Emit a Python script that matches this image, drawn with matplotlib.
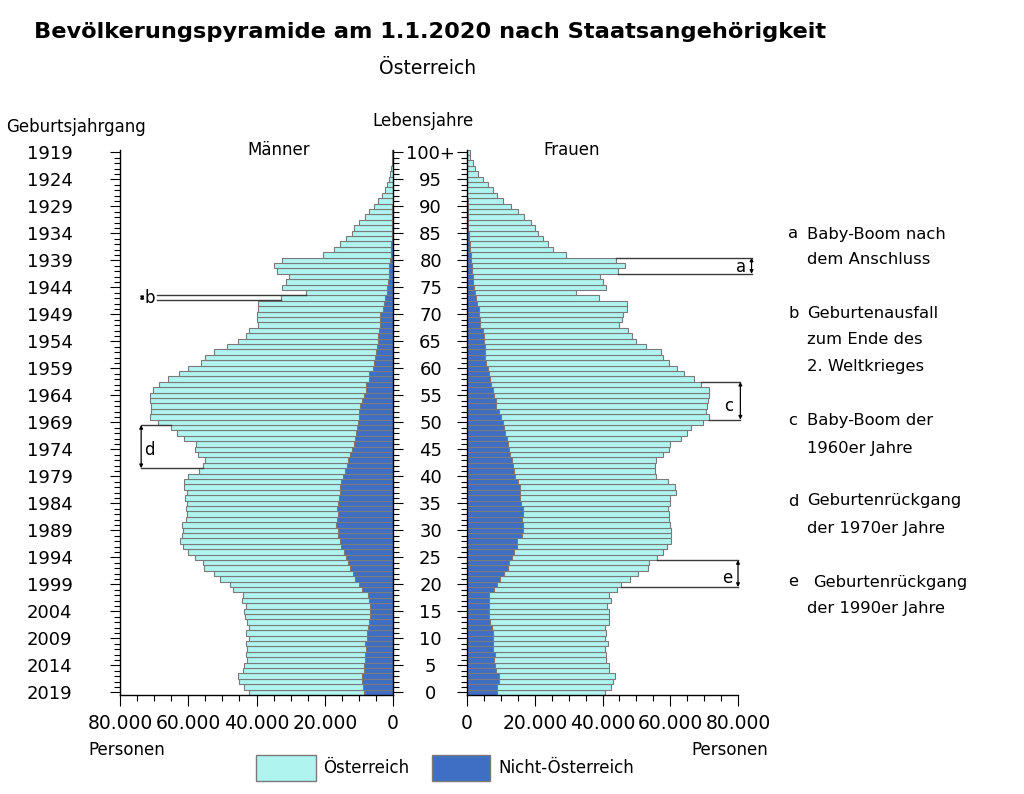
import matplotlib
matplotlib.use('Agg')
import matplotlib.pyplot as plt
import numpy as np
from matplotlib.patches import Rectangle
from matplotlib.ticker import MultipleLocator, FixedLocator, FuncFormatter

plt.rcParams['font.family'] = 'DejaVu Sans'

# Lebensjahre 0 .. 100+ (Werte in 1.000 Personen)
alter = np.arange(0, 101)

maenner_gesamt = [
    42.1, 43.6, 45.1, 45.5, 44.1, 43.8, 42.8, 43.1, 42.8, 43.1,
    42.1, 43.1, 42.1, 42.8, 43.3, 43.8, 43.1, 44.3, 44.0, 46.9,
    47.9, 50.7, 52.6, 55.5, 55.7, 58.1, 60.2, 61.6, 62.5, 61.9,
    61.4, 61.9, 60.6, 60.3, 60.8, 60.3, 60.9, 60.4, 61.1, 61.3,
    60.2, 56.8, 55.6, 55.0, 57.0, 58.0, 57.7, 61.1, 63.4, 65.0,
    69.0, 71.2, 70.9, 70.9, 71.2, 71.2, 70.2, 68.5, 66.0, 62.8,
    60.1, 56.3, 55.0, 52.5, 48.5, 45.3, 43.1, 42.1, 39.7, 39.9,
    39.9, 39.6, 39.6, 32.8, 25.5, 32.4, 31.3, 30.5, 34.0, 35.0,
    32.4, 20.6, 17.4, 15.6, 13.8, 12.0, 11.3, 10.0, 8.3, 7.1,
    5.7, 4.4, 3.2, 2.4, 1.8, 1.2, 0.8, 0.6, 0.4, 0.2,
    0.2]

maenner_nicht_oesterreich = [
    8.6, 8.8, 9.1, 9.1, 8.4, 8.4, 8.1, 8.1, 7.9, 8.1,
    7.6, 7.6, 7.3, 7.0, 6.8, 6.8, 6.7, 7.1, 7.4, 9.0,
    10.0, 11.0, 11.7, 12.5, 13.3, 13.9, 14.3, 15.3, 15.5, 16.2,
    16.2, 16.7, 16.4, 16.2, 16.4, 16.2, 15.9, 15.6, 15.5, 15.3,
    14.7, 14.0, 13.5, 13.2, 12.5, 12.0, 11.3, 11.1, 10.8, 10.6,
    10.4, 10.1, 10.0, 9.8, 9.1, 8.6, 8.0, 7.8, 7.0, 6.9,
    6.0, 5.5, 5.2, 5.0, 4.8, 4.5, 4.4, 4.2, 3.9, 3.9,
    3.7, 2.9, 2.7, 2.2, 1.8, 1.8, 1.6, 1.3, 1.2, 1.1,
    0.8, 0.6, 0.5, 0.5, 0.4, 0.4, 0.3, 0.3, 0.2, 0.2,
    0.2, 0.1, 0.1, 0.1, 0.1, 0.0, 0.0, 0.0, 0.0, 0.0,
    0.0]

frauen_gesamt = [
    40.6, 42.4, 43.0, 43.7, 42.0, 41.8, 40.9, 40.9, 40.7, 41.5,
    40.7, 40.9, 40.7, 41.8, 41.8, 42.0, 41.2, 42.6, 41.8, 44.4,
    45.6, 48.0, 50.6, 53.4, 53.8, 56.2, 58.0, 58.9, 60.2, 60.2,
    60.2, 59.9, 59.5, 59.7, 59.2, 60.0, 59.9, 61.8, 61.4, 59.3,
    55.9, 55.5, 55.5, 55.8, 58.0, 59.7, 59.9, 63.1, 64.8, 66.2,
    69.8, 71.3, 70.7, 70.9, 71.0, 71.5, 71.3, 69.0, 66.9, 64.2,
    62.1, 59.5, 58.0, 57.2, 52.9, 50.0, 48.6, 47.4, 44.9, 45.9,
    46.0, 47.2, 47.2, 39.1, 32.1, 40.9, 40.1, 39.3, 44.5, 46.7,
    44.0, 29.3, 25.4, 23.9, 22.4, 20.9, 20.0, 18.9, 16.9, 15.2,
    13.0, 10.7, 8.8, 7.7, 6.3, 4.6, 3.2, 2.3, 1.7, 0.9,
    1.0]

frauen_nicht_oesterreich = [
    8.8, 8.8, 9.3, 9.3, 8.6, 8.3, 8.1, 8.3, 7.8, 7.8,
    7.6, 7.6, 7.3, 6.9, 6.6, 6.4, 6.4, 6.4, 6.6, 8.0,
    8.8, 9.8, 11.0, 12.0, 12.5, 13.2, 14.0, 14.7, 14.9, 16.1,
    16.6, 16.6, 16.1, 16.4, 16.4, 16.0, 15.7, 15.7, 15.7, 15.1,
    14.2, 13.8, 13.5, 13.2, 12.8, 12.5, 12.0, 11.7, 11.3, 10.8,
    10.5, 10.0, 9.3, 8.7, 8.7, 8.1, 7.8, 7.2, 6.8, 6.6,
    6.1, 5.6, 5.4, 5.3, 5.3, 5.1, 4.9, 4.6, 3.8, 3.8,
    3.6, 3.4, 3.0, 2.7, 2.3, 2.1, 1.9, 1.9, 1.5, 1.5,
    1.2, 1.1, 0.9, 0.9, 0.7, 0.5, 0.4, 0.3, 0.3, 0.2,
    0.2, 0.2, 0.1, 0.1, 0.1, 0.1, 0.0, 0.0, 0.0, 0.0,
    0.0]

label_alter = [0, 5, 10, 15, 20, 25, 30, 35, 40, 45, 50,
               55, 60, 65, 70, 75, 80, 85, 90, 95, 100]
label_lebensjahre = ['0', '5', '10', '15', '20', '25', '30', '35', '40', '45', '50',
                     '55', '60', '65', '70', '75', '80', '85', '90', '95', '100+']
label_geburtsjahrgang = ['2019', '2014', '2009', '2004', '1999', '1994', '1989',
                         '1984', '1979', '1974', '1969', '1964', '1959', '1954',
                         '1949', '1944', '1939', '1934', '1929', '1924', '1919']

C_AT = '#b0f4f0'
C_NAT = '#3f6fc4'
EDGE = '#7a7a7a'
LINE = '#3a3a3a'

m_ges = np.array(maenner_gesamt) * 1000
m_nat = np.array(maenner_nicht_oesterreich) * 1000
f_ges = np.array(frauen_gesamt) * 1000
f_nat = np.array(frauen_nicht_oesterreich) * 1000


def fx(x):
    return x / 1024


def fy(y):
    return 1 - y / 794


fig = plt.figure(figsize=(10.24, 7.94), dpi=100)
fig.patch.set_facecolor('white')

ax_m = fig.add_axes([fx(120), fy(695), 273 / 1024, 545.4 / 794])
ax_f = fig.add_axes([fx(467), fy(695), 271 / 1024, 545.4 / 794])

for ax, ges, nat in [(ax_m, m_ges, m_nat), (ax_f, f_ges, f_nat)]:
    ax.barh(alter, nat, height=1.0, color=C_NAT, edgecolor=EDGE, linewidth=0.8)
    ax.barh(alter, ges - nat, left=nat, height=1.0, color=C_AT, edgecolor=EDGE, linewidth=0.8)
    ax.set_ylim(-0.5, 100.5)
    ax.spines['top'].set_visible(False)
    for s in ax.spines.values():
        s.set_linewidth(1.0)
        s.set_color('black')
    ax.yaxis.set_major_locator(FixedLocator(label_alter))
    ax.yaxis.set_minor_locator(MultipleLocator(1))
    ax.xaxis.set_major_locator(MultipleLocator(20000))
    ax.xaxis.set_minor_locator(MultipleLocator(5000))
    ax.xaxis.set_major_formatter(FuncFormatter(lambda v, _: f'{int(round(v)):,}'.replace(',', '.')))
    ax.tick_params(axis='x', which='major', length=8, width=0.8, labelsize=13.5, pad=6)
    ax.tick_params(axis='x', which='minor', length=4, width=0.8)
    ax.set_facecolor('none')

ax_m.set_xlim(80000, 0)
ax_f.set_xlim(0, 80000)
ax_f.spines['right'].set_visible(False)

# Geburtsjahrgang links, Lebensjahre in der Mitte
ax_m.set_yticklabels(label_geburtsjahrgang)
ax_m.tick_params(axis='y', which='both', left=True, right=True, direction='out')
ax_m.tick_params(axis='y', which='major', length=7.2, width=0.8, labelsize=13, pad=27)
ax_m.tick_params(axis='y', which='minor', length=4, width=0.8)

ax_f.set_yticklabels(label_lebensjahre)
ax_f.tick_params(axis='y', which='major', length=7.2, width=0.8, labelsize=13, pad=19)
ax_f.tick_params(axis='y', which='minor', length=4, width=0.8)
for lbl in ax_f.get_yticklabels():
    lbl.set_horizontalalignment('center')


# Markierungen a - e
def pfeil(ax, x, y_oben, y_unten):
    ax.annotate('', xy=(x, y_oben), xytext=(x, y_unten),
                arrowprops=dict(arrowstyle='<|-|>', color='black', lw=0.9,
                                mutation_scale=5, shrinkA=0, shrinkB=0),
                annotation_clip=False)


def klammer(ax, y_oben, x_oben, y_unten, x_unten, x_pfeil, x_linie=None):
    if x_linie is None:
        x_linie = x_pfeil
    ax.plot([x_oben, x_linie], [y_oben, y_oben], color=LINE, lw=1.0, clip_on=False, zorder=5)
    ax.plot([x_unten, x_linie], [y_unten, y_unten], color=LINE, lw=1.0, clip_on=False, zorder=5)
    pfeil(ax, x_pfeil, y_oben, y_unten)


klammer(ax_f, 80.5, f_ges[80], 77.5, f_ges[78], 84000)
ax_f.text(81000, 78.8, 'a', fontsize=12, ha='center', va='center')
klammer(ax_f, 57.5, f_ges[57], 50.5, f_ges[51], 80700)
ax_f.text(77300, 53.0, 'c', fontsize=12, ha='center', va='center')
klammer(ax_f, 24.5, f_ges[25], 19.5, f_ges[20], 80000)
ax_f.text(76900, 21.2, 'e', fontsize=12, ha='center', va='center')
klammer(ax_m, 49.5, m_ges[49], 41.5, m_ges[42], 73800)
ax_m.text(71500, 44.8, 'd', fontsize=12, ha='center', va='center')
klammer(ax_m, 73.6, m_ges[74], 72.6, m_ges[73], 73500, x_linie=69200)
ax_m.text(71400, 73.1, 'b', fontsize=12, ha='center', va='center')

# Beschriftungen
fig.text(fx(430), fy(32), 'Bevölkerungspyramide am 1.1.2020 nach Staatsangehörigkeit',
         fontsize=16.2, fontweight='bold', ha='center', va='center')
fig.text(fx(428), fy(68), 'Österreich', fontsize=13.5, ha='center', va='center')
fig.text(fx(76), fy(127), 'Geburtsjahrgang', fontsize=12, ha='center', va='center')
fig.text(fx(423), fy(121), 'Lebensjahre', fontsize=12, ha='center', va='center')
fig.text(fx(279), fy(150), 'Männer', fontsize=12, ha='center', va='center')
fig.text(fx(572), fy(150), 'Frauen', fontsize=12, ha='center', va='center')
fig.text(fx(127), fy(750), 'Personen', fontsize=12, ha='center', va='center')
fig.text(fx(730), fy(750), 'Personen', fontsize=12, ha='center', va='center')

notizen = [
    ('a', 'Baby-Boom nach', 234, 807), ('', 'dem Anschluss', 260, 807),
    ('b', 'Geburtenausfall', 313, 807), ('', 'zum Ende des', 340, 807),
    ('', '2. Weltkrieges', 367, 807),
    ('c', 'Baby-Boom der', 421, 807), ('', '1960er Jahre', 448, 807),
    ('d', 'Geburtenrückgang', 501, 807), ('', 'der 1970er Jahre', 528, 807),
    ('e', 'Geburtenrückgang', 582, 813), ('', 'der 1990er Jahre', 608, 807),
]
for buchstabe, text, y, x in notizen:
    if buchstabe:
        fig.text(fx(788), fy(y), buchstabe, fontsize=11.8, ha='left', va='center')
    fig.text(fx(x), fy(y), text, fontsize=11.8, ha='left', va='center')

# Legende
fig.add_artist(Rectangle((fx(256), fy(781)), 60 / 1024, 26 / 794, transform=fig.transFigure,
                         facecolor=C_AT, edgecolor=EDGE, lw=1.0))
fig.text(fx(323), fy(768), 'Österreich', fontsize=12, ha='left', va='center')
fig.add_artist(Rectangle((fx(432), fy(781)), 58 / 1024, 26 / 794, transform=fig.transFigure,
                         facecolor=C_NAT, edgecolor=EDGE, lw=1.0))
fig.text(fx(498), fy(768), 'Nicht-Österreich', fontsize=12, ha='left', va='center')

fig.savefig('out.png', dpi=100, facecolor='white')
